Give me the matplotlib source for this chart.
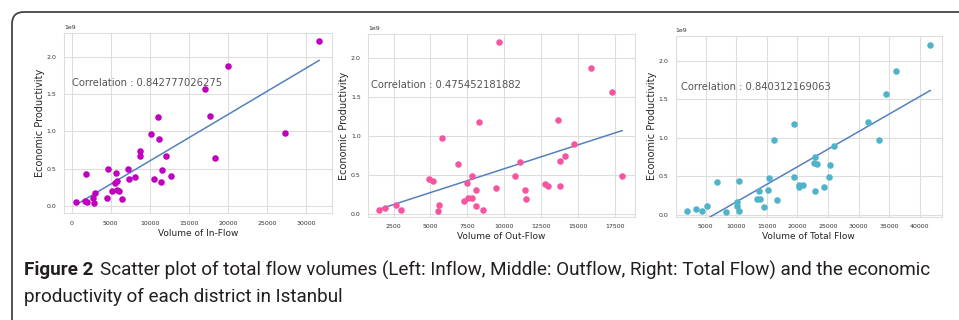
import numpy as np
import matplotlib
matplotlib.use("Agg")
import matplotlib.pyplot as plt
import matplotlib.patches as patches
import matplotlib.transforms as mtransforms
import seaborn as sns

# data (productivity in units of 1e9)
in_flow = [555, 1664, 1920, 1835, 2773, 2901, 2987, 4565, 4650, 5206, 5590, 5675,
           5803, 5803, 6060, 6443, 7168, 7296, 8107, 8790, 8790, 10198, 10497,
           11009, 11222, 11393, 11563, 12033, 12673, 17068, 17750, 18305, 20012,
           27266, 31704]
prod_in = [0.053, 0.067, 0.053, 0.43, 0.107, 0.036, 0.174, 0.107, 0.49, 0.196, 0.31,
           0.445, 0.33, 0.21, 0.205, 0.098, 0.49, 0.365, 0.39, 0.74, 0.67, 0.97,
           0.36, 1.19, 0.895, 0.32, 0.485, 0.67, 0.396, 1.568, 1.21, 0.65, 1.88,
           0.975, 2.21]

out_flow = [1546, 1930, 2653, 3015, 4890, 5184, 5523, 5614, 5817, 6879, 7286, 7467,
            7535, 7806, 7806, 8077, 8077, 8303, 8575, 9434, 9637, 10700, 11084,
            11378, 11446, 12780, 12938, 13616, 13752, 13775, 14137, 14724, 15855,
            17279, 18002]
prod_out = [0.051, 0.081, 0.115, 0.06, 0.449, 0.432, 0.038, 0.115, 0.983, 0.65, 0.171,
            0.397, 0.209, 0.209, 0.496, 0.316, 0.103, 1.19, 0.056, 0.333, 2.205,
            0.496, 0.67, 0.316, 0.2, 0.393, 0.363, 1.205, 0.363, 0.68, 0.744, 0.898,
            1.876, 1.568, 0.496]

total_flow = [2016, 3488, 4414, 5232, 6921, 8284, 10082, 10191, 10409, 10518, 13352,
              13897, 13679, 14605, 15259, 15314, 16131, 16622, 19456, 19456, 20219,
              20328, 20873, 22672, 22944, 23162, 22835, 24307, 25233, 25397, 25996,
              31556, 33300, 34499, 36079, 41747]
prod_total = [0.043, 0.074, 0.052, 0.108, 0.43, 0.03, 0.117, 0.169, 0.043, 0.438, 0.2,
              0.2, 0.312, 0.095, 0.325, 0.48, 0.967, 0.195, 1.184, 0.486, 0.356, 0.39,
              0.39, 0.677, 0.746, 0.664, 0.312, 0.36, 0.494, 0.642, 0.894, 1.21, 0.976,
              1.57, 1.874, 2.212]

x_labels = ["Volume of In-Flow", "Volume of Out-Flow", "Volume of Total Flow"]
corr_texts = ["Correlation : 0.842777026275", "Correlation : 0.475452181882",
              "Correlation : 0.840312169063"]
caption_bold = "Figure 2"
caption_rest = ("Scatter plot of total flow volumes (Left: Inflow, Middle: Outflow, "
                "Right: Total Flow) and the economic")
caption_line2 = "productivity of each district in Istanbul"

sns.set_style("whitegrid")
plt.rcParams['font.family'] = ['DejaVu Sans']

fig = plt.figure(figsize=(9.59, 3.2), dpi=100)

panels = [
    (in_flow, prod_in, 'm', [0.0667, 0.3334, 0.2792, 0.5635], (-981, 33283), (-0.098, 2.32), 0.03),
    (out_flow, prod_out, '#f7559f', [0.3840, 0.3228, 0.2781, 0.5700], (786, 18862), (-0.03, 2.31), 0.01),
    (total_flow, prod_total, '#4fb3c9', [0.7046, 0.3228, 0.2774, 0.5647], (109, 43600), (-0.026, 2.325), 0.02),
]

for i, (xs, ys, col, pos, xl, yl, tx) in enumerate(panels):
    ax = fig.add_axes(pos)
    x = np.array(xs, dtype=float)
    y = np.array(ys) * 1e9
    ax.scatter(x, y, s=22, c=col, linewidths=0, zorder=3)
    k, b = np.polyfit(x, y, 1)
    xx = np.array([x.min(), x.max()])
    ax.plot(xx, k * xx + b, color='#5580c0', lw=1.1, zorder=2)
    ax.set_xlim(*xl)
    ax.set_ylim(yl[0] * 1e9, yl[1] * 1e9)
    ax.set_yticks(np.array([0, 0.5, 1.0, 1.5, 2.0]) * 1e9)
    ax.tick_params(labelsize=4.5, pad=2, colors='#333333')
    ax.yaxis.get_offset_text().set_fontsize(4.5)
    ax.grid(True, color='#dddddd', lw=0.8)
    for sp in ax.spines.values():
        sp.set_color('#dddddd')
    ax.set_xlabel(x_labels[i], fontsize=6.5, labelpad=2)
    ax.set_ylabel("Economic Productivity", fontsize=7, labelpad=1)
    ax.text(tx, 0.72, corr_texts[i], transform=ax.transAxes, fontsize=7.2,
            color='#555555', va='center')

# caption
cap_font = ['Roboto', 'DejaVu Sans']
cap_size = 13.6
t1 = fig.text(24 / 959, 1 - 270 / 320, caption_bold, fontsize=cap_size, fontweight='bold',
              family=cap_font, va='center', color='#231f20')
fig.canvas.draw()
bb = t1.get_window_extent()
fig.text((bb.x1 + 6) / 959, 1 - 270 / 320, caption_rest, fontsize=cap_size,
         family=cap_font, va='center', color='#231f20')
fig.text(24 / 959, 1 - 297 / 320, caption_line2, fontsize=cap_size,
         family=cap_font, va='center', color='#231f20')

# rounded frame around the figure
frame = patches.FancyBboxPatch((12, -30), 980, 338,
                               boxstyle="round,pad=0,rounding_size=12",
                               transform=mtransforms.IdentityTransform(),
                               fill=False, ec='#444444', lw=1.3)
fig.add_artist(frame)

fig.savefig("out.png", dpi=100)
